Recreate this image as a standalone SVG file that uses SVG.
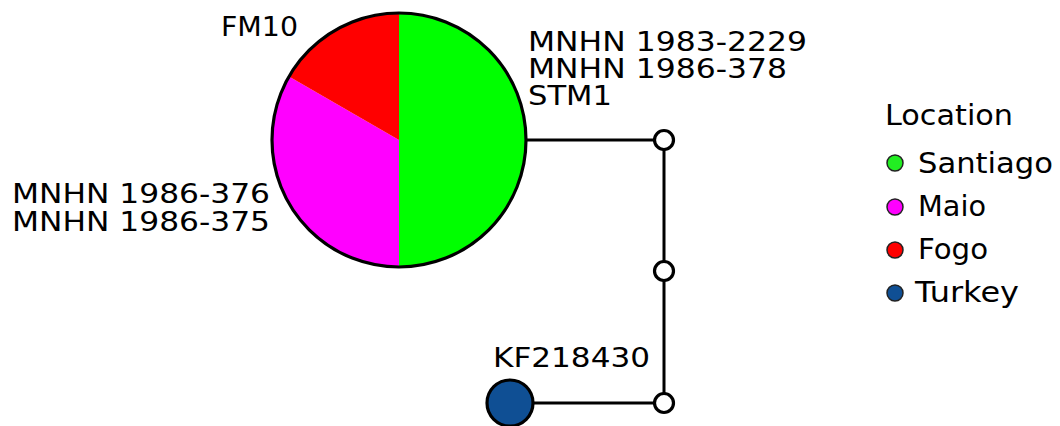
<svg xmlns="http://www.w3.org/2000/svg" width="1060" height="426" viewBox="0 0 1060 426">
<style>
text{font-family:"DejaVu Sans","Liberation Sans",sans-serif;fill:#000}
.lbl{font-size:26px}
.leg{font-size:29px}
.edge{stroke:#000;stroke-width:3;fill:none}
.med{fill:#fff;stroke:#000;stroke-width:3.2}
.sl{stroke:none}
.dot{stroke:#222;stroke-width:1.5}
</style>
<rect width="1060" height="426" fill="#fff"/>
<g id="connectors">
<line class="edge" x1="526" y1="140" x2="664" y2="140"/>
<line class="edge" x1="664" y1="140" x2="664" y2="403"/>
<line class="edge" x1="510" y1="403" x2="664" y2="403"/>
</g>
<g id="node-main">
<path class="sl" fill="#00ff00" d="M399,140 L399,13 A127,127 0 0 1 399,267 Z"/>
<path class="sl" fill="#ff00ff" d="M399,140 L399,267 A127,127 0 0 1 289.0,76.5 Z"/>
<path class="sl" fill="#ff0000" d="M399,140 L289.0,76.5 A127,127 0 0 1 399,13 Z"/>
<circle cx="399" cy="140" r="127" fill="none" stroke="#000" stroke-width="3.2"/>
<text class="lbl" x="221" y="36" textLength="77" lengthAdjust="spacingAndGlyphs">FM10</text>
<text class="lbl" x="528" y="51" textLength="279" lengthAdjust="spacingAndGlyphs">MNHN 1983-2229</text>
<text class="lbl" x="528" y="78" textLength="259" lengthAdjust="spacingAndGlyphs">MNHN 1986-378</text>
<text class="lbl" x="528" y="105" textLength="84" lengthAdjust="spacingAndGlyphs">STM1</text>
<text class="lbl" x="12" y="203" textLength="258" lengthAdjust="spacingAndGlyphs">MNHN 1986-376</text>
<text class="lbl" x="12" y="231" textLength="258" lengthAdjust="spacingAndGlyphs">MNHN 1986-375</text>
</g>
<g id="node-m1"><circle class="med" cx="664" cy="140" r="9.5"/></g>
<g id="node-m2"><circle class="med" cx="664" cy="271" r="9.5"/></g>
<g id="node-m3"><circle class="med" cx="664" cy="403" r="9.5"/></g>
<g id="node-turkey">
<circle cx="510" cy="403" r="23" fill="#0f4f94" stroke="#000" stroke-width="3.2"/>
<text class="lbl" x="493" y="367" textLength="157" lengthAdjust="spacingAndGlyphs">KF218430</text>
</g>
<g id="legend">
<text class="leg" x="885" y="125" textLength="128" lengthAdjust="spacingAndGlyphs">Location</text>
<circle class="dot" cx="895" cy="163" r="8" fill="#22ee22"/>
<text class="leg" x="918" y="173" textLength="135" lengthAdjust="spacingAndGlyphs">Santiago</text>
<circle class="dot" cx="895" cy="207" r="8" fill="#ff00ff"/>
<text class="leg" x="918" y="216" textLength="68" lengthAdjust="spacingAndGlyphs">Maio</text>
<circle class="dot" cx="895" cy="250" r="8" fill="#ff0000"/>
<text class="leg" x="918" y="259" textLength="70" lengthAdjust="spacingAndGlyphs">Fogo</text>
<circle class="dot" cx="895" cy="293" r="8" fill="#0f4f94"/>
<text class="leg" x="915" y="302" textLength="104" lengthAdjust="spacingAndGlyphs">Turkey</text>
</g>
</svg>
